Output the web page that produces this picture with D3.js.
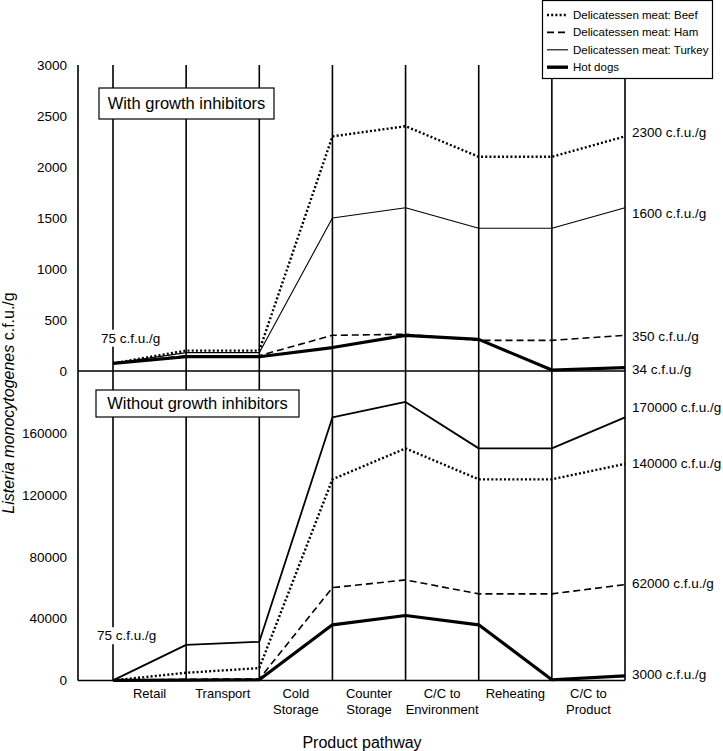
<!DOCTYPE html>
<html>
<head>
<meta charset="utf-8">
<script src="https://cdn.jsdelivr.net/npm/d3@7"></script>
<style>
  body { margin: 0; background: #fff; }
  svg { display: block; font-family: "Liberation Sans", Arial, sans-serif; }
</style>
</head>
<body>
<svg id="chart" width="723" height="751"></svg>
<script>
// ---------- DATA ----------
const categories = ["Retail", "Transport", "Cold Storage", "Counter Storage", "C/C to Environment", "Reheating", "C/C to Product"];
const seriesNames = ["Delicatessen meat: Beef", "Delicatessen meat: Ham", "Delicatessen meat: Turkey", "Hot dogs"];

// With growth inhibitors (c.f.u./g) at the 8 pathway nodes
const beefWith   = [75, 200, 200, 2300, 2400, 2100, 2100, 2300];
const hamWith    = [75, 150, 150, 350, 360, 300, 300, 350];
const turkeyWith = [75, 180, 180, 1500, 1600, 1400, 1400, 1600];
const hotdogWith = [75, 140, 140, 230, 350, 310, 10, 34];

// Without growth inhibitors
const beefWithout   = [75, 5000, 8000, 130000, 150000, 130000, 130000, 140000];
const hamWithout    = [75, 800, 1000, 60000, 65000, 56000, 56000, 62000];
const turkeyWithout = [75, 23000, 25000, 170000, 180000, 150000, 150000, 170000];
const hotdogWithout = [75, 300, 500, 36000, 42000, 36000, 500, 3000];

const topTicks = [0, 500, 1000, 1500, 2000, 2500, 3000];
const bottomTicks = [0, 40000, 80000, 120000, 160000];
const topEndLabels = ["2300 c.f.u./g", "1600 c.f.u./g", "350 c.f.u./g", "34 c.f.u./g"];
const bottomEndLabels = ["170000 c.f.u./g", "140000 c.f.u./g", "62000 c.f.u./g", "3000 c.f.u./g"];
const startLabel = "75 c.f.u./g";

// ---------- LAYOUT ----------
const svg = d3.select("#chart");
const axisX = 78, firstNode = 113, lastNode = 625;
const topY0 = 371, topY1 = 65, botY0 = 680.5;

const xBand = d3.scaleBand().domain(categories).range([firstNode, lastNode]).padding(0);
const xNode = d3.scaleLinear().domain([0, categories.length]).range([firstNode, lastNode]);
const yTop = d3.scaleLinear().domain([0, 3000]).range([topY0, topY1]);
const yBot = d3.scaleLinear().domain([0, 200000]).range([botY0, topY0]);

const styles = [
  { dash: "2,2.2", w: 2.4 },     // Beef - dotted
  { dash: "7,4", w: 1.6 },       // Ham - dashed
  { dash: null, w: 1.1 },        // Turkey - thin
  { dash: null, w: 3.2 }         // Hot dogs - thick
];

// vertical node lines
const nodes = d3.range(categories.length + 1);
svg.append("g").selectAll("line").data(nodes).join("line")
  .attr("x1", d => xNode(d)).attr("x2", d => xNode(d))
  .attr("y1", topY1).attr("y2", botY0)
  .attr("stroke", "#000").attr("stroke-width", 1.6);

// left axis line + horizontal lines
svg.append("line").attr("x1", axisX).attr("x2", axisX).attr("y1", topY1).attr("y2", botY0)
  .attr("stroke", "#000").attr("stroke-width", 1.6);
svg.append("line").attr("x1", axisX).attr("x2", lastNode).attr("y1", yTop(0)).attr("y2", yTop(0))
  .attr("stroke", "#000").attr("stroke-width", 1.4);
svg.append("line").attr("x1", axisX).attr("x2", lastNode).attr("y1", botY0).attr("y2", botY0)
  .attr("stroke", "#000").attr("stroke-width", 1.6);

// y axes (labels only)
const gTop = svg.append("g").attr("transform", `translate(${axisX},0)`)
  .call(d3.axisLeft(yTop).tickValues(topTicks).tickSize(0).tickPadding(11).tickFormat(d3.format("d")));
const gBot = svg.append("g").attr("transform", `translate(${axisX},0)`)
  .call(d3.axisLeft(yBot).tickValues(bottomTicks).tickSize(0).tickPadding(11).tickFormat(d3.format("d")));
[gTop, gBot].forEach(g => {
  g.select(".domain").remove();
  g.selectAll("text").attr("font-size", 13.5).attr("font-family", "Liberation Sans, Arial, sans-serif").attr("fill", "#000");
});

// x axis category labels
const gx = svg.append("g").attr("transform", `translate(0,${botY0})`)
  .call(d3.axisBottom(xBand).tickSize(0).tickPadding(0));
gx.select(".domain").remove();
const wrapMap = {
  "Cold Storage": ["Cold", "Storage"],
  "Counter Storage": ["Counter", "Storage"],
  "C/C to Environment": ["C/C to", "Environment"],
  "C/C to Product": ["C/C to", "Product"]
};
gx.selectAll(".tick text").each(function(d) {
  const t = d3.select(this);
  const lines = wrapMap[d] || [d];
  t.text(null).attr("font-size", 13).attr("fill", "#000")
    .attr("font-family", "Liberation Sans, Arial, sans-serif").attr("y", 0).attr("dy", null);
  lines.forEach((ln, i) => {
    t.append("tspan").attr("x", 0).attr("y", 17 + i * 16).text(ln);
  });
});

// panel title boxes
function titleBox(label, cx, cy, w, h) {
  svg.append("rect").attr("x", cx - w / 2).attr("y", cy - h / 2).attr("width", w).attr("height", h)
    .attr("fill", "#fff").attr("stroke", "#000").attr("stroke-width", 1.2);
  svg.append("text").attr("x", cx).attr("y", cy).attr("dy", "0.35em").attr("text-anchor", "middle")
    .attr("font-size", 16.5).text(label);
}
titleBox("With growth inhibitors", 186.5, 103.5, 175, 31);
titleBox("Without growth inhibitors", 197.5, 403.5, 203, 27);

// series lines
const topSeries = [beefWith, hamWith, turkeyWith, hotdogWith];
const botSeries = [beefWithout, hamWithout, turkeyWithout, hotdogWithout];
const lineTop = d3.line().x((d, i) => xNode(i)).y(d => yTop(d));
const lineBot = d3.line().x((d, i) => xNode(i)).y(d => yBot(d));

topSeries.forEach((s, k) => {
  svg.append("path").datum(s).attr("d", lineTop).attr("fill", "none").attr("stroke", "#000")
    .attr("stroke-width", styles[k].w).attr("stroke-dasharray", styles[k].dash)
    .attr("stroke-linejoin", "round");
});
botSeries.forEach((s, k) => {
  const w = k === 2 ? 1.8 : styles[k].w;
  svg.append("path").datum(s).attr("d", lineBot).attr("fill", "none").attr("stroke", "#000")
    .attr("stroke-width", w).attr("stroke-dasharray", styles[k].dash)
    .attr("stroke-linejoin", "round");
});

// start labels with white background
function startLbl(x, y) {
  const t = svg.append("text").attr("x", x).attr("y", y).attr("dy", "0.35em")
    .attr("font-size", 13.5).text(startLabel);
  const bb = t.node().getBBox();
  svg.insert("rect", () => t.node()).attr("x", bb.x - 1).attr("y", bb.y - 1)
    .attr("width", bb.width + 2).attr("height", bb.height + 2).attr("fill", "#fff");
}
startLbl(101, yTop(0) - 33);
startLbl(97, yBot(0) - 45);

// end labels
const topOrder = [0, 2, 1, 3];   // beef, turkey, ham, hot dogs
const botOrder = [2, 0, 1, 3];   // turkey, beef, ham, hot dogs
const topOff = [-4, 5, 1, 1.5];
const botOff = [-10, -1, -1, -2];
topEndLabels.forEach((lab, k) => {
  const s = topSeries[topOrder[k]];
  svg.append("text").attr("x", lastNode + 7).attr("y", yTop(s[s.length - 1]) + topOff[k])
    .attr("dy", "0.35em").attr("font-size", 13.5).text(lab);
});
bottomEndLabels.forEach((lab, k) => {
  const s = botSeries[botOrder[k]];
  svg.append("text").attr("x", lastNode + 7).attr("y", yBot(s[s.length - 1]) + botOff[k])
    .attr("dy", "0.35em").attr("font-size", 13.5).text(lab);
});

// axis titles
const yt = svg.append("text").attr("transform", "translate(14,403) rotate(-90)")
  .attr("text-anchor", "middle").attr("font-size", 16);
yt.append("tspan").attr("font-style", "italic").text("Listeria monocytogenes");
yt.append("tspan").text(" c.f.u./g");

svg.append("text").attr("x", 362).attr("y", 748).attr("text-anchor", "middle")
  .attr("font-size", 16).text("Product pathway");

// legend
const lg = svg.append("g");
lg.append("rect").attr("x", 542.5).attr("y", 0.5).attr("width", 170).attr("height", 78)
  .attr("fill", "#fff").attr("stroke", "#000").attr("stroke-width", 1.2);
const legW = [2.4, 1.8, 1.1, 3.4];
seriesNames.forEach((name, k) => {
  const cy = 15 + k * 17.4;
  lg.append("line").attr("x1", 547).attr("x2", 568).attr("y1", cy).attr("y2", cy)
    .attr("stroke", "#000").attr("stroke-width", legW[k]).attr("stroke-dasharray", styles[k].dash);
  lg.append("text").attr("x", 573).attr("y", cy).attr("dy", "0.35em").attr("font-size", 11.5).text(name);
});
</script>
</body>
</html>
